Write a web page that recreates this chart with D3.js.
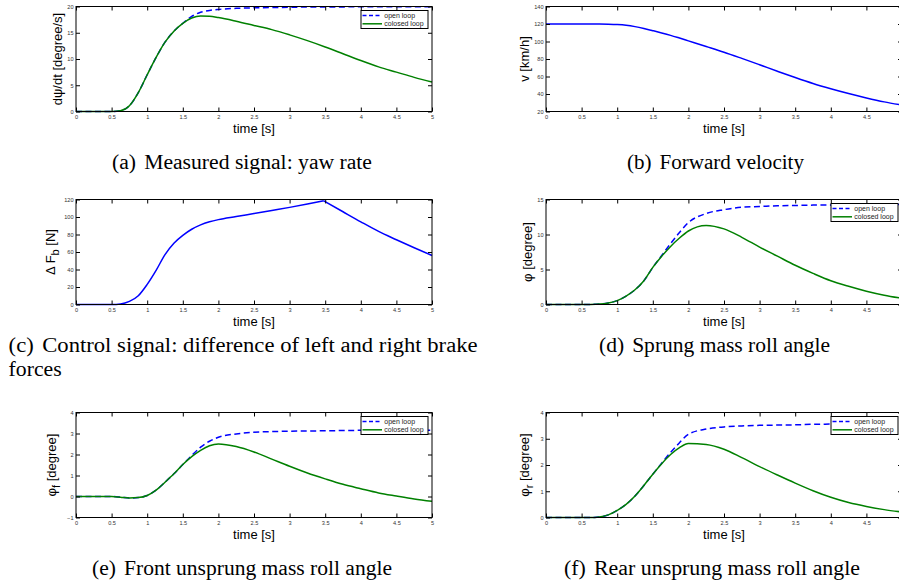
<!DOCTYPE html>
<html>
<head>
<meta charset="utf-8">
<script src="https://cdnjs.cloudflare.com/ajax/libs/d3/7.8.5/d3.min.js"></script>
<style>
  body { margin: 0; background: #fff; }
  svg text { font-family: "Liberation Sans", Arial, sans-serif; }
  svg .caption { font-family: "Liberation Serif", "Times New Roman", serif; font-size: 20px; }
</style>
</head>
<body>
<div id="chart"></div>
<script>
// sample times (s), shared by most traces
var time = [0, 0.25, 0.5, 0.625, 0.75, 0.875, 1, 1.125, 1.25, 1.375, 1.5, 1.625, 1.75, 1.875, 2,
  2.25, 2.5, 2.75, 3, 3.25, 3.5, 3.75, 4, 4.25, 4.5, 4.75, 5];

// (a) yaw rate [degree/s]
var yawOpen = [0, 0, 0, 0.15, 1.1, 3.6, 7.0, 10.3, 13.2, 15.3, 16.8, 18.1, 18.9, 19.25, 19.45,
  19.65, 19.75, 19.8, 19.85, 19.9, 19.9, 19.92, 19.95, 19.95, 19.95, 19.95, 19.95];
var yawClosed = [0, 0, 0, 0.15, 1.1, 3.6, 7.0, 10.3, 13.2, 15.3, 16.8, 17.8, 18.2, 18.15, 17.9,
  17.2, 16.4, 15.6, 14.6, 13.5, 12.3, 11.0, 9.7, 8.5, 7.5, 6.5, 5.6];

// (b) forward velocity [km/h]
var velocity = [120, 120, 120, 120, 119.9, 119.7, 119.3, 118.5, 117, 114.9, 112.4, 109.8, 107, 103.9, 100.7,
  94.3, 87.8, 80.7, 73.4, 66, 58.8, 52, 46, 40.5, 35.5, 31, 27.3];

// (c) brake force difference [N], own time base because of the corner near 3.5 s
var brakeTime = [0, 0.25, 0.5, 0.625, 0.75, 0.875, 1, 1.125, 1.25, 1.375, 1.5, 1.625, 1.75, 1.875, 2,
  2.25, 2.5, 2.75, 3, 3.25, 3.48, 3.75, 4, 4.25, 4.5, 4.75, 5];
var brakeForce = [0, 0, 0, 0.6, 3.5, 10, 23, 39, 57, 70, 79, 86, 91, 94.5, 97,
  100.5, 104, 107.5, 111, 114.8, 118.5, 106, 94.5, 83.5, 74, 64.8, 56];

// (d) sprung mass roll angle [degree]
var rollOpen = [0, 0, 0, 0.01, 0.06, 0.22, 0.55, 1.2, 2.1, 3.4, 5.3, 7.0, 8.7, 10.3, 11.7,
  13.0, 13.55, 13.9, 14.0, 14.1, 14.15, 14.2, 14.22, 14.25, 14.27, 14.3, 14.3];
var rollClosed = [0, 0, 0, 0.01, 0.06, 0.22, 0.55, 1.2, 2.1, 3.4, 5.3, 6.9, 8.3, 9.5, 10.5,
  11.3, 10.8, 9.6, 8.2, 6.9, 5.6, 4.45, 3.4, 2.6, 1.9, 1.33, 0.88];

// (e) front unsprung mass roll angle [degree]
var frontOpen = [0, 0, 0, -0.03, -0.07, -0.05, 0.05, 0.3, 0.68, 1.08, 1.52, 1.95, 2.35, 2.63, 2.82,
  2.98, 3.06, 3.09, 3.11, 3.12, 3.13, 3.14, 3.15, 3.15, 3.15, 3.15, 3.15];
var frontClosed = [0, 0, 0, -0.03, -0.07, -0.05, 0.05, 0.3, 0.68, 1.08, 1.52, 1.9, 2.2, 2.42, 2.5,
  2.38, 2.12, 1.78, 1.44, 1.12, 0.84, 0.58, 0.37, 0.17, 0.02, -0.12, -0.23];

// (f) rear unsprung mass roll angle [degree]
var rearOpen = [0, 0, 0, 0, 0.02, 0.1, 0.27, 0.5, 0.82, 1.22, 1.65, 2.07, 2.48, 2.85, 3.17,
  3.37, 3.45, 3.49, 3.51, 3.52, 3.53, 3.55, 3.56, 3.57, 3.57, 3.57, 3.57];
var rearClosed = [0, 0, 0, 0, 0.02, 0.1, 0.27, 0.5, 0.82, 1.22, 1.65, 2.05, 2.4, 2.66, 2.82,
  2.78, 2.6, 2.28, 1.94, 1.62, 1.31, 1.02, 0.77, 0.57, 0.42, 0.3, 0.21];

// ticks
var xTicks = [0, 0.5, 1, 1.5, 2, 2.5, 3, 3.5, 4, 4.5, 5];
var yawTicks = [0, 5, 10, 15, 20];
var velTicks = [20, 40, 60, 80, 100, 120, 140];
var brakeTicks = [0, 20, 40, 60, 80, 100, 120];
var rollTicks = [0, 5, 10, 15];
var frontTicks = [-1, 0, 1, 2, 3, 4];
var rearTicks = [0, 1, 2, 3, 4];

var legendNames = ['open loop', 'colosed loop'];
var captions = ['(a)', 'Measured signal: yaw rate', '(b)', 'Forward velocity',
  '(c)', 'Control signal: difference of left and right brake', '(d)', 'Sprung mass roll angle',
  '(e)', 'Front unsprung mass roll angle', '(f)', 'Rear unsprung mass roll angle'];

var W = 899, H = 583;
var colLeft = [76, 546], rowTop = [6.5, 199.5, 412.5];
var plotW = 356, plotH = 105, tick = 4;
var blue = '#0000ff', green = '#008000';

var svg = d3.select('#chart').append('svg').attr('width', W).attr('height', H);
svg.append('rect').attr('width', W).attr('height', H).attr('fill', '#fff');

var fmt = d3.format('');
var none = function() { return ''; };

var panels = [
  { col: 0, row: 0, dom: [0, 20], ticks: yawTicks, lab: [['d\u03c8/dt [degree/s]']], off: 14, legend: true,
    series: [{ x: time, y: yawOpen, c: blue, dash: true }, { x: time, y: yawClosed, c: green }] },
  { col: 1, row: 0, dom: [20, 140], ticks: velTicks, lab: [['v [km/h]']], off: 17.5,
    series: [{ x: time, y: velocity, c: blue }] },
  { col: 0, row: 1, dom: [0, 120], ticks: brakeTicks, lab: [['\u0394 F'], ['b', 1], [' [N]']], off: 21,
    series: [{ x: brakeTime, y: brakeForce, c: blue, split: 20 }] },
  { col: 1, row: 1, dom: [0, 15], ticks: rollTicks, lab: [['\u03c6 [degree]']], off: 14, legend: true,
    series: [{ x: time, y: rollOpen, c: blue, dash: true }, { x: time, y: rollClosed, c: green }] },
  { col: 0, row: 2, dom: [-1, 4], ticks: frontTicks, lab: [['\u03c6'], ['f', 1], [' [degree]']], off: 20, legend: true,
    series: [{ x: time, y: frontOpen, c: blue, dash: true }, { x: time, y: frontClosed, c: green }] },
  { col: 1, row: 2, dom: [0, 4], ticks: rearTicks, lab: [['\u03c6'], ['r', 1], [' [degree]']], off: 17, legend: true,
    series: [{ x: time, y: rearOpen, c: blue, dash: true }, { x: time, y: rearClosed, c: green }] }
];

var drawPanel = function(p) {
  var left = colLeft[p.col];
  var x = d3.scaleLinear().domain([0, 5]).range([0, plotW]);
  var y = d3.scaleLinear().domain(p.dom).range([plotH, 0]);
  var g = svg.append('g').attr('transform', 'translate(' + left + ',' + rowTop[p.row] + ')');

  var line = d3.line()
    .x(function(d) { return x(d[0]); })
    .y(function(d) { return y(d[1]); })
    .curve(d3.curveMonotoneX);

  p.series.forEach(function(s) {
    var pts = s.y.map(function(v, i) { return [s.x[i], v]; });
    var parts = s.split ? [pts.slice(0, s.split + 1), pts.slice(s.split)] : [pts];
    parts.forEach(function(part) {
      g.append('path').datum(part)
        .attr('d', line)
        .attr('fill', 'none')
        .attr('stroke', s.c)
        .attr('stroke-width', 1.5)
        .attr('stroke-dasharray', s.dash ? '6,3.5' : null);
    });
  });

  // labels that fall past the page edge are not drawn (right column, t = 5)
  var xFmt = function(d) { return left + x(d) > W - 3 ? '' : fmt(d); };

  // matlab style box: ticks inside on all four sides
  var axes = [
    [d3.axisBottom(x).tickValues(xTicks).tickFormat(xFmt).tickPadding(3.5), 0, plotH],
    [d3.axisTop(x).tickValues(xTicks).tickFormat(none), 0, 0],
    [d3.axisLeft(y).tickValues(p.ticks).tickFormat(fmt).tickPadding(2.5), 0, 0],
    [d3.axisRight(y).tickValues(p.ticks).tickFormat(none), plotW, 0]
  ];
  axes.forEach(function(a) {
    var ag = g.append('g')
      .attr('transform', 'translate(' + a[1] + ',' + a[2] + ')')
      .call(a[0].tickSize(-tick));
    ag.select('.domain').remove();
    ag.attr('font-size', 5.6).attr('font-family', '"Liberation Sans", Arial, sans-serif');
    ag.selectAll('text').attr('fill', '#333');
  });

  g.append('rect')
    .attr('width', plotW).attr('height', plotH)
    .attr('fill', 'none').attr('stroke', '#000').attr('stroke-width', 1);

  g.append('text')
    .attr('x', plotW / 2).attr('y', plotH + 21.5)
    .attr('text-anchor', 'middle')
    .attr('font-size', 13)
    .text('time [s]');

  var yl = g.append('text')
    .attr('transform', 'translate(' + (-p.off) + ',' + (plotH / 2) + ') rotate(-90)')
    .attr('text-anchor', 'middle')
    .attr('font-size', 13);
  p.lab.forEach(function(part, i) {
    var prev = i > 0 && p.lab[i - 1][1];
    yl.append('tspan')
      .attr('dy', part[1] ? 4 : (prev ? -4 : 0))
      .attr('font-size', part[1] ? 11 : null)
      .text(part[0]);
  });

  if (p.legend) {
    var lg = g.append('g').attr('transform', 'translate(' + (plotW - 71) + ',4)');
    lg.append('rect').attr('width', 67).attr('height', 18)
      .attr('fill', '#fff').attr('stroke', '#000').attr('stroke-width', 1);
    legendNames.forEach(function(name, i) {
      var ly = 5 + i * 8.3;
      lg.append('line')
        .attr('x1', 1.5).attr('x2', 21).attr('y1', ly).attr('y2', ly)
        .attr('stroke', i ? green : blue).attr('stroke-width', 1.5)
        .attr('stroke-dasharray', i ? null : '4,2.5');
      lg.append('text')
        .attr('x', 23.3).attr('y', ly + 2.4)
        .attr('font-size', 7).attr('fill', '#222')
        .text(name);
    });
  }
};

panels.forEach(drawPanel);

// sub captions: x, baseline, anchor, width
var capPos = [[242, 168.7, 'middle', 260], [715.5, 168.7, 'middle', 177], [8.6, 351.5, 'start', 469],
  [714.5, 351.5, 'middle', 231], [242, 574.5, 'middle', 300], [712, 574.5, 'middle', 296]];
capPos.forEach(function(c, i) {
  var t = svg.append('text').attr('class', 'caption')
    .attr('x', c[0]).attr('y', c[1]).attr('text-anchor', c[2])
    .attr('textLength', c[3]).attr('lengthAdjust', 'spacingAndGlyphs');
  t.append('tspan').text(captions[i * 2]);
  t.append('tspan').attr('dx', 7.5).text(captions[i * 2 + 1]);
});
svg.append('text').attr('class', 'caption').attr('x', 8.6).attr('y', 375.5)
  .attr('textLength', 53).attr('lengthAdjust', 'spacingAndGlyphs').text('forces');
</script>
</body>
</html>
